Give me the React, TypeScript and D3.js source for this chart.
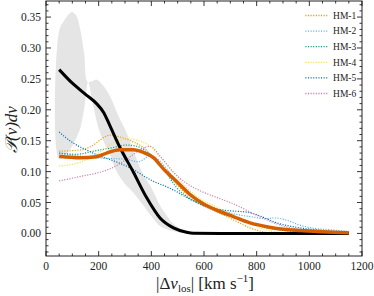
import React from "react";
import * as d3 from "d3";

// observed distribution (black) and band
const obsX = [50, 100, 150, 192, 220, 243, 281, 332, 382, 433, 484, 534, 560, 700, 900, 1150];
const obsY = [0.265, 0.243, 0.225, 0.21, 0.195, 0.174, 0.139, 0.099, 0.058, 0.025, 0.009, 0.002, 0.0005, 0, 0, 0];

// band outline: upper edge left->right, then lower edge right->left
const bandUpper: [number, number][] = [
  [50, 0.328], [70, 0.345], [97, 0.358], [115, 0.352], [130, 0.33], [145, 0.29], [158, 0.245],
  [175, 0.246], [192, 0.249], [215, 0.24], [243, 0.222], [275, 0.19], [306, 0.163], [340, 0.125],
  [370, 0.095], [401, 0.073], [433, 0.045], [460, 0.028], [483, 0.016], [510, 0.008], [535, 0.003], [570, 0.0005],
];
const bandLower: [number, number][] = [
  [570, 0], [535, 0], [500, 0.002], [470, 0.005], [433, 0.012], [400, 0.028], [365, 0.048],
  [332, 0.066], [300, 0.08], [268, 0.1], [240, 0.13], [205, 0.163], [180, 0.205], [160, 0.245],
  [148, 0.21], [130, 0.17], [110, 0.15], [90, 0.135], [70, 0.125], [50, 0.12],
];

// mean of simulations (thick orange)
const meanX = [50, 129, 192, 230, 281, 332, 370, 408, 446, 496, 547, 597, 648, 711, 775, 838, 901, 965, 1028, 1091, 1150];
const meanY = [0.125, 0.1226, 0.124, 0.13, 0.1354, 0.1354, 0.131, 0.1226, 0.1045, 0.084, 0.063, 0.048, 0.0376, 0.0273, 0.017, 0.0108, 0.0067, 0.0046, 0.003, 0.002, 0.001];

const hmNames = ["HM-1", "HM-2", "HM-3", "HM-4", "HM-5", "HM-6"];
const hmColors = ["#E69F00", "#56B4E9", "#009E73", "#F0E442", "#0072B2", "#CC79A7"];

const hm1: [number, number][] = [
  [50, 0.133], [129, 0.135], [180, 0.143], [205, 0.151], [243, 0.159], [281, 0.156], [332, 0.148],
  [382, 0.135], [420, 0.115], [458, 0.097], [496, 0.079], [547, 0.058], [597, 0.045], [648, 0.035],
  [711, 0.022], [775, 0.009], [825, 0.0026], [876, 0], [1000, 0], [1150, 0],
];
const hm2: [number, number][] = [
  [50, 0.13], [100, 0.127], [150, 0.124], [205, 0.122], [256, 0.121], [306, 0.12], [350, 0.116],
  [395, 0.125], [430, 0.118], [470, 0.098], [510, 0.076], [560, 0.058], [610, 0.046], [660, 0.038],
  [720, 0.031], [780, 0.027], [830, 0.024], [870, 0.025], [910, 0.022], [960, 0.014], [1020, 0.008],
  [1080, 0.006], [1150, 0.003],
];
const hm3: [number, number][] = [
  [50, 0.13], [116, 0.128], [180, 0.133], [243, 0.138], [306, 0.143], [344, 0.141], [395, 0.128],
  [446, 0.105], [496, 0.074], [547, 0.056], [597, 0.045], [661, 0.035], [737, 0.022], [813, 0.012],
  [889, 0.0057], [965, 0.0026], [1040, 0.001], [1150, 0.0005],
];
const hm4: [number, number][] = [
  [50, 0.109], [129, 0.115], [192, 0.128], [256, 0.146], [306, 0.153], [344, 0.151], [395, 0.141],
  [433, 0.125], [484, 0.099], [534, 0.074], [585, 0.056], [648, 0.043], [711, 0.03], [787, 0.0144],
  [838, 0.0057], [889, 0.0015], [1000, 0], [1150, 0],
];
const hm5: [number, number][] = [
  [50, 0.164], [104, 0.146], [154, 0.135], [205, 0.125], [253, 0.118], [329, 0.104], [395, 0.087],
  [471, 0.073], [559, 0.053], [620, 0.042], [690, 0.037], [770, 0.034], [820, 0.027], [870, 0.018],
  [950, 0.01], [1050, 0.005], [1150, 0.002],
];
const hm6: [number, number][] = [
  [50, 0.085], [129, 0.092], [205, 0.099], [256, 0.107], [306, 0.12], [357, 0.135], [395, 0.141],
  [433, 0.125], [484, 0.099], [534, 0.081], [585, 0.069], [650, 0.058], [711, 0.048], [812, 0.027],
  [900, 0.012], [1028, 0.004], [1150, 0.002],
];
const hmSeries = [hm1, hm2, hm3, hm4, hm5, hm6];

const xTicks = [0, 200, 400, 600, 800, 1000, 1200];
const yTicks = [0, 0.05, 0.1, 0.15, 0.2, 0.25, 0.3, 0.35];

const W = 374, H = 296;
const margin = { top: 1, right: 12, bottom: 40, left: 46 };

export default function App() {
  const iw = 362 - margin.left;
  const ih = 256 - margin.top;
  const x = d3.scaleLinear().domain([0, 1200]).range([0, iw]);
  const y = d3.scaleLinear().domain([-0.0365, 0.376]).range([ih, 0]);

  const line = d3.line<[number, number]>()
    .x((d) => x(d[0]))
    .y((d) => y(d[1]))
    .curve(d3.curveMonotoneX);
  const polyLine = d3.line<[number, number]>()
    .x((d) => x(d[0]))
    .y((d) => y(d[1]))
    .curve(d3.curveCatmullRomClosed.alpha(0.5));

  const band = [...bandUpper, ...bandLower];
  const obs = obsX.map((v, i) => [v, obsY[i]] as [number, number]);
  const mean = meanX.map((v, i) => [v, meanY[i]] as [number, number]);

  const xMinor = d3.range(0, 1201, 50);
  const yMinor = d3.range(-0.03, 0.3751, 0.01);
  const serif = "'Liberation Serif', 'DejaVu Serif', serif";

  return (
    <svg width={W} height={H} style={{ position: "absolute", left: 0, top: 0 }}>
      <g transform={`translate(${margin.left},${margin.top})`}>
        <path d={polyLine(band) || ""} fill="#e5e5e5" stroke="none" />
        {hmSeries.map((s, i) => (
          <path key={i} d={line(s) || ""} fill="none" stroke={hmColors[i]}
            strokeWidth={1.2} strokeDasharray="1.1 1.5" />
        ))}
        <path d={line(obs) || ""} fill="none" stroke="#000" strokeWidth={3} />
        <path d={line(mean) || ""} fill="none" stroke="#D55E00" strokeWidth={3.5} />

        {/* legend */}
        {hmNames.map((n, i) => (
          <g key={n} transform={`translate(0,${14.5 + i * 15.6})`}>
            <line x1={x(985)} x2={x(1072)} y1={0} y2={0} stroke={hmColors[i]}
              strokeWidth={1.3} strokeDasharray="1.1 1.5" />
            <text x={x(1090)} y={3.3} fontSize={9.5} fontFamily={serif} fill="#222">{n}</text>
          </g>
        ))}

        {/* ticks */}
        {xMinor.map((v) => {
          const major = v % 200 === 0;
          const l = major ? 5 : 2.5;
          return (
            <g key={"x" + v}>
              <line x1={x(v)} x2={x(v)} y1={ih} y2={ih - l} stroke="#000" strokeWidth={0.8} />
              <line x1={x(v)} x2={x(v)} y1={0} y2={l} stroke="#000" strokeWidth={0.8} />
            </g>
          );
        })}
        {yMinor.map((v) => {
          const major = Math.abs(Math.round(v * 100) % 5) === 0;
          const l = major ? 5 : 2.5;
          return (
            <g key={"y" + v.toFixed(2)}>
              <line x1={0} x2={l} y1={y(v)} y2={y(v)} stroke="#000" strokeWidth={0.8} />
              <line x1={iw} x2={iw - l} y1={y(v)} y2={y(v)} stroke="#000" strokeWidth={0.8} />
            </g>
          );
        })}
        <rect x={0} y={0} width={iw} height={ih} fill="none" stroke="#222" strokeWidth={1} />

        {xTicks.map((v) => (
          <text key={"xt" + v} x={x(v)} y={ih + 13.5} fontSize={11.5} textAnchor="middle"
            fontFamily={serif} fill="#222">{v}</text>
        ))}
        {yTicks.map((v) => (
          <text key={"yt" + v} x={-5} y={y(v) + 4} fontSize={11.5} textAnchor="end"
            fontFamily={serif} fill="#222">{v.toFixed(2)}</text>
        ))}

        <text x={iw / 2 + 1} y={ih + 33} fontSize={17} textAnchor="middle" fontFamily={serif} fill="#222">
          |Δ<tspan fontStyle="italic">v</tspan><tspan fontSize={11} dy={3}>los</tspan>
          <tspan dy={-3}>| [km s</tspan><tspan fontSize={11} dy={-7}>−1</tspan><tspan dy={7}>]</tspan>
        </text>
        <text transform={`translate(${-29},${y(0.168)}) rotate(-90)`} fontSize={17} textAnchor="middle"
          fontFamily={serif} fontStyle="italic" fill="#222">
          𝒫(v)dv
        </text>
      </g>
    </svg>
  );
}
